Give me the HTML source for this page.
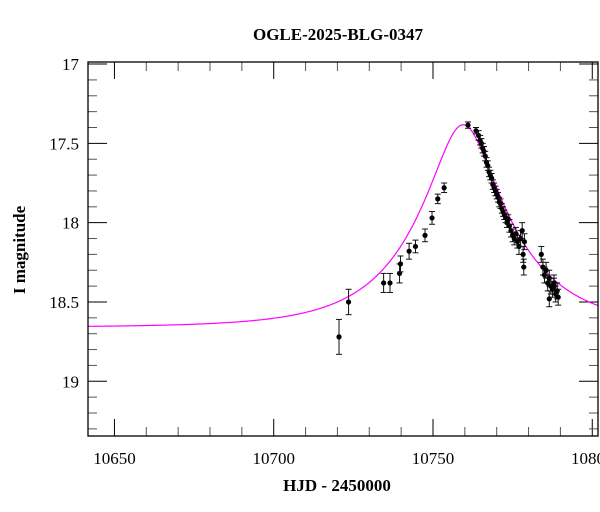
<!DOCTYPE html>
<html><head><meta charset="utf-8"><style>
html,body{margin:0;padding:0;background:#fff;}
svg{display:block;font-family:"Liberation Serif",serif;}
</style></head><body>
<svg id="chart" width="600" height="512" viewBox="0 0 600 512" xmlns="http://www.w3.org/2000/svg">
<text x="338" y="40" text-anchor="middle" font-size="17" font-weight="bold">OGLE-2025-BLG-0347</text>
<text transform="translate(25,250) rotate(-90)" text-anchor="middle" font-size="17" font-weight="bold">I magnitude</text>
<text x="337" y="491" text-anchor="middle" font-size="17" font-weight="bold">HJD - 2450000</text>
<g id="axes"></g>
<g id="model"></g>
<g id="points"></g>
<rect x="88" y="62" width="510" height="374" fill="none" stroke="#000" stroke-width="1.3"/>
</svg>
<script>
const xTicks=[10650,10700,10750,10800];
const yTicks=[17,17.5,18,18.5,19];
const yTickLabels=["17","17.5","18","18.5","19"];
const obsT=[10720.5,10723.5,10734.5,10736.5,10739.5,10739.8,10742.5,10744.5,10747.5,10749.7,10751.5,10753.5,10761.0,10763.5,10764.3,10764.8,10765.2,10765.6,10766.0,10766.4,10766.8,10767.2,10767.6,10768.0,10768.4,10768.8,10769.2,10769.6,10770.0,10770.4,10770.8,10771.2,10771.6,10772.0,10772.4,10772.8,10773.2,10773.6,10774.0,10774.5,10775.0,10775.5,10776.0,10776.5,10777.0,10777.5,10778.0,10778.3,10778.5,10778.7,10784.0,10784.5,10785.0,10785.5,10786.0,10786.5,10787.0,10787.5,10788.0,10788.5,10789.0,10789.3,10786.5,10788.0];
const obsMag=[18.72,18.50,18.38,18.38,18.32,18.26,18.18,18.15,18.08,17.97,17.85,17.78,17.385,17.42,17.45,17.48,17.50,17.53,17.55,17.58,17.62,17.64,17.68,17.70,17.72,17.76,17.78,17.80,17.82,17.84,17.87,17.88,17.91,17.93,17.95,17.97,18.00,17.98,18.02,18.05,18.08,18.10,18.07,18.12,18.15,18.10,18.05,18.20,18.28,18.12,18.20,18.28,18.33,18.30,18.38,18.35,18.40,18.42,18.38,18.45,18.43,18.47,18.48,18.40];
const obsErr=[0.11,0.08,0.06,0.06,0.06,0.05,0.05,0.04,0.04,0.04,0.03,0.03,0.02,0.02,0.03,0.03,0.03,0.03,0.03,0.03,0.03,0.03,0.03,0.03,0.03,0.03,0.03,0.03,0.03,0.03,0.03,0.03,0.03,0.03,0.03,0.03,0.03,0.03,0.04,0.04,0.04,0.04,0.04,0.04,0.05,0.05,0.05,0.05,0.05,0.05,0.05,0.05,0.05,0.05,0.05,0.05,0.05,0.05,0.05,0.05,0.05,0.05,0.05,0.05];
const modelParams=[10759.5,0.32,29,18.66]; // t0, u0, tE, baseline
const NS="http://www.w3.org/2000/svg";
const X0=88,X1=598,Y0=62,Y1=436;
const xMin=10641.7,xMax=10801.8,yMin=16.987,yMax=19.345;
const sx=t=>X0+(t-xMin)/(xMax-xMin)*(X1-X0);
const sy=m=>Y0+(m-yMin)/(yMax-yMin)*(Y1-Y0);
function mk(tag,attrs,parent){const e=document.createElementNS(NS,tag);for(const k in attrs)e.setAttribute(k,attrs[k]);parent.appendChild(e);return e;}
const axes=document.getElementById('axes');
// x ticks
for(let t=10650;t<=10800;t+=10){
  const major=(t%50===0);const L=major?17:9;const x=sx(t);
  let e=mk('line',{x1:x,x2:x,y1:Y1,y2:Y1-L,stroke:major?'#000':'#555','stroke-width':1},axes);
  
  
  e=mk('line',{x1:x,x2:x,y1:Y0,y2:Y0+L,stroke:major?'#000':'#555','stroke-width':1},axes);
  
  
}
xTicks.forEach(t=>{
  const e=mk('text',{x:sx(t),y:Y1+28,'text-anchor':'middle','font-size':17},axes);
  e.textContent=String(t);
  
  
});
// y ticks
for(let i=0;i<=23;i++){
  const m=17+i*0.1;const major=(i%5===0);const L=major?19:9;const y=sy(m);
  let e=mk('line',{x1:X0,x2:X0+L,y1:y,y2:y,stroke:major?'#000':'#555','stroke-width':1},axes);
  
  
  e=mk('line',{x1:X1,x2:X1-L,y1:y,y2:y,stroke:major?'#000':'#555','stroke-width':1},axes);
  
  
}
yTicks.forEach((m,i)=>{
  const e=mk('text',{x:X0-9,y:sy(m)+6,'text-anchor':'end','font-size':17},axes);
  e.textContent=yTickLabels[i];
  
  
});
// model
const [t0,u0,tE,base]=modelParams;
const A0=(u0*u0+2)/(u0*Math.sqrt(u0*u0+4));
let d='';
for(let px=X0;px<=X1;px+=1){
  const t=xMin+(px-X0)/(X1-X0)*(xMax-xMin);
  const tau=(t-t0)/tE;const u=Math.sqrt(u0*u0+tau*tau);
  const A=(u*u+2)/(u*Math.sqrt(u*u+4));
  const m=base-2.5*Math.log10(A);
  d+=(px===X0?'M':'L')+px.toFixed(1)+','+sy(m).toFixed(2);
}
const mp=mk('path',{d:d,fill:'none',stroke:'#ff00ff','stroke-width':1.2},document.getElementById('model'));


// points
const pg=document.getElementById('points');
obsT.forEach((t,i)=>{
  const x=sx(t),y=sy(obsMag[i]),ya=sy(obsMag[i]-obsErr[i]),yb=sy(obsMag[i]+obsErr[i]);
  const g=mk('g',{},pg);
  
  
  mk('line',{x1:x,x2:x,y1:ya,y2:yb,stroke:'#111','stroke-width':1},g);
  mk('line',{x1:x-3,x2:x+3,y1:ya,y2:ya,stroke:'#111','stroke-width':1},g);
  mk('line',{x1:x-3,x2:x+3,y1:yb,y2:yb,stroke:'#111','stroke-width':1},g);
  mk('circle',{cx:x,cy:y,r:2.6,fill:'#000'},g);
});
</script>
</body></html>
